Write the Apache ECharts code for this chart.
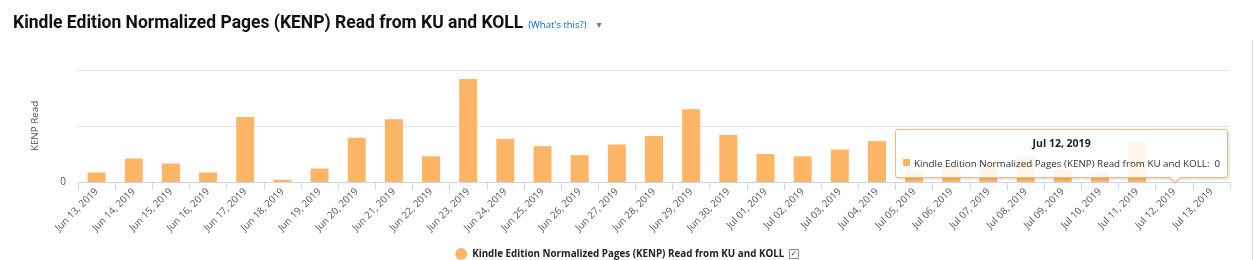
<!DOCTYPE html>
<html><head><meta charset="utf-8">
<script src="https://cdn.jsdelivr.net/npm/echarts@6/dist/echarts.min.js"></script>
<style>html,body{margin:0;padding:0;background:#fff;} #c{width:1254px;height:260px;}</style>
</head><body><div id="c"></div>
<script>
const categories = ['Jun 13, 2019','Jun 14, 2019','Jun 15, 2019','Jun 16, 2019','Jun 17, 2019','Jun 18, 2019','Jun 19, 2019','Jun 20, 2019','Jun 21, 2019','Jun 22, 2019','Jun 23, 2019','Jun 24, 2019','Jun 25, 2019','Jun 26, 2019','Jun 27, 2019','Jun 28, 2019','Jun 29, 2019','Jun 30, 2019','Jul 01, 2019','Jul 02, 2019','Jul 03, 2019','Jul 04, 2019','Jul 05, 2019','Jul 06, 2019','Jul 07, 2019','Jul 08, 2019','Jul 09, 2019','Jul 10, 2019','Jul 11, 2019','Jul 12, 2019','Jul 13, 2019'];
const kenpValues = [17,42,33,17,116,4,24,79,112,46,184,77,64,48,67,82,130,84,50,46,58,73,20,30,34,45,21,16,69,0,0];
const yTickValues = [0,100,200];
const seriesName = 'Kindle Edition Normalized Pages (KENP) Read from KU and KOLL';
const titleText = 'Kindle Edition Normalized Pages (KENP) Read from KU and KOLL';
const titleLink = "(What's this?)";
const yAxisName = 'KENP Read';
const tooltipIndex = 29;

const barColor = '#ffb566';
const chart = echarts.init(document.getElementById('c'), null, {renderer:'canvas'});
const GRID = {left:78, right:24, top:70, bottom:78};

chart.setOption({
  animation:false,
  backgroundColor:'#fff',
  title:{
    left:8, top:10,
    text:'{t|'+titleText+'} {w|'+titleLink+'}  {a|▾}',
    textStyle:{
      rich:{
        t:{fontFamily:'Roboto', fontWeight:'bold', fontSize:17.5, color:'#111'},
        w:{fontFamily:'Open Sans', fontWeight:'normal', fontSize:9.5, color:'#0066c0', padding:[3,0,0,0]},
        a:{fontFamily:'DejaVu Sans', fontWeight:'normal', fontSize:10, color:'#777', padding:[2,0,0,0]}
      }
    }
  },
  grid:{left:GRID.left, right:GRID.right, top:GRID.top, bottom:GRID.bottom, containLabel:false},
  legend:{
    bottom:-5, left:'center',
    icon:'circle', itemWidth:12, itemHeight:12, itemGap:8,
    data:[seriesName],
    formatter: function(n){ return n + '  {cb|✓}'; },
    textStyle:{
      fontFamily:'Open Sans', fontWeight:'bold', fontSize:9.8, color:'#222',
      rich:{cb:{fontFamily:'DejaVu Sans', fontSize:8, color:'#333', borderColor:'#888', borderWidth:1, width:9, height:9, lineHeight:9, align:'center', fontWeight:'normal'}}
    }
  },
  tooltip:{
    trigger:'axis',
    triggerOn:'none',
    alwaysShowContent:true,
    axisPointer:{type:'none'},
    transitionDuration:0,
    backgroundColor:'rgba(255,255,255,0.86)',
    borderColor:'#f1bc80',
    borderWidth:1,
    borderRadius:3,
    padding:[5,7,5,7],
    extraCssText:'box-shadow:1px 1px 3px rgba(0,0,0,0.18);',
    textStyle:{fontFamily:'Open Sans', fontSize:9.8, color:'#333'},
    formatter:function(params){
      const p = Array.isArray(params)?params[0]:params;
      return '<div style="text-align:center;font-weight:bold;font-size:10.5px;line-height:16px;margin-bottom:5px;color:#222">'+p.name+'</div>'+
        '<div style="line-height:16px;white-space:nowrap;font-size:9.8px"><span style="display:inline-block;width:7px;height:7px;background:'+barColor+';margin-right:4px;vertical-align:1px"></span>'+p.seriesName+':&nbsp; '+p.value+'</div>'+
        '<div class="arr" style="position:absolute;bottom:-7px;left:0;width:0;height:0;border-left:7px solid transparent;border-right:7px solid transparent;border-top:7px solid #f1bc80"></div>'+
        '<div class="arr2" style="position:absolute;bottom:-5px;left:1px;width:0;height:0;border-left:6px solid transparent;border-right:6px solid transparent;border-top:6px solid #fff"></div>';
    },
    position:function(point, params, dom, rect, size){
      const cx = chart.convertToPixel({xAxisIndex:0}, categories[tooltipIndex]);
      const baseY = chart.convertToPixel({yAxisIndex:0}, 0);
      const w = size.contentSize[0], h = size.contentSize[1];
      const plotRight = size.viewSize[0] - GRID.right;
      const left = plotRight - w - 2;
      const top = baseY - h - 4;
      const a = dom.querySelector('.arr'); if(a) a.style.left = (cx-left-7)+'px';
      const b = dom.querySelector('.arr2'); if(b) b.style.left = (cx-left-6)+'px';
      return [left, top];
    }
  },
  xAxis:{
    type:'category', data:categories, boundaryGap:true,
    axisLine:{lineStyle:{color:'#ccd6eb'}},
    axisTick:{show:true, length:8, alignWithLabel:false, lineStyle:{color:'#ccd6eb'}},
    axisLabel:{rotate:45, interval:0, margin:8, color:'#555', fontFamily:'Open Sans', fontSize:9.8}
  },
  yAxis:{
    type:'value', min:yTickValues[0], max:yTickValues[yTickValues.length-1], interval:yTickValues[1]-yTickValues[0],
    name:yAxisName, nameLocation:'middle', nameGap:38, nameRotate:90,
    nameTextStyle:{color:'#555', fontFamily:'Open Sans', fontSize:9.8},
    axisLine:{show:false}, axisTick:{show:false},
    axisLabel:{margin:12, color:'#555', fontFamily:'Open Sans', fontSize:10, formatter:function(v){return v===0?'0':'';}},
    splitLine:{lineStyle:{color:'#e6e6e6'}}
  },
  graphic:[{type:'line', shape:{x1:1252.5,y1:40,x2:1252.5,y2:260}, style:{stroke:'#dcdcdc', lineWidth:1}, silent:true}],
  series:[{
    name:seriesName, type:'bar', data:kenpValues, barWidth:18,
    itemStyle:{color:barColor}
  }]
});
chart.dispatchAction({type:'showTip', seriesIndex:0, dataIndex:tooltipIndex});
</script></body></html>
